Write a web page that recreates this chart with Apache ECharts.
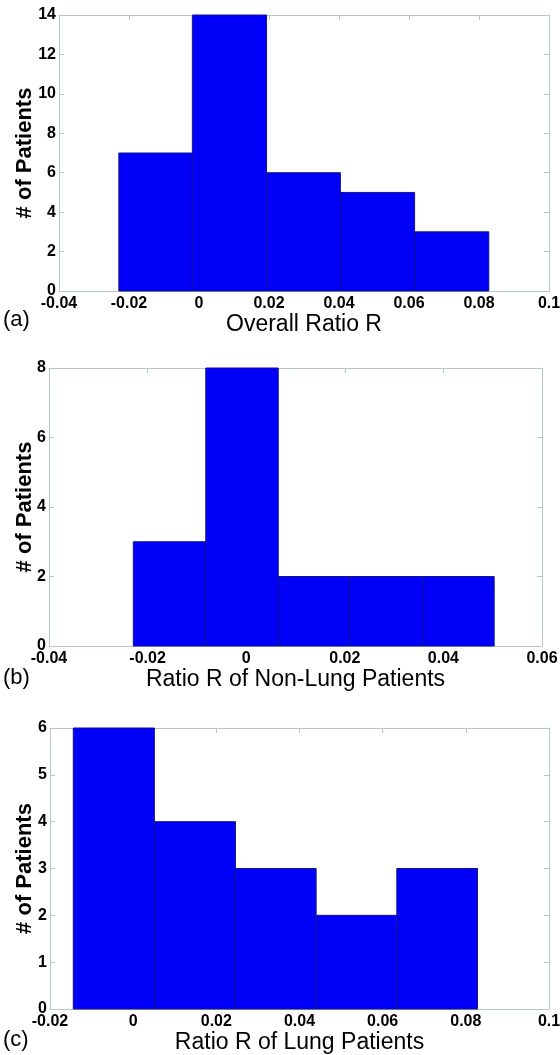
<!DOCTYPE html>
<html>
<head>
<meta charset="utf-8">
<script src="https://cdn.jsdelivr.net/npm/echarts@6/dist/echarts.min.js"></script>
<style>
html,body{margin:0;padding:0;background:#fff;}
#chart{width:560px;height:1055px;}
</style>
</head>
<body>
<div id="chart"></div>
<script>
// Panel (a): Overall Ratio R
const edgesA = [-0.0229, -0.0019, 0.0193, 0.0404, 0.0616, 0.0828];
const countsA = [7, 14, 6, 5, 3];
// Panel (b): Ratio R of Non-Lung Patients
const edgesB = [-0.0229, -0.0082, 0.0065, 0.0210, 0.0358, 0.0503];
const countsB = [3, 8, 2, 2, 2];
// Panel (c): Ratio R of Lung Patients
const edgesC = [-0.0144, 0.0051, 0.0246, 0.0440, 0.0634, 0.0828];
const countsC = [6, 4, 3, 2, 3];

const xTitles = ['Overall Ratio R', 'Ratio R of Non-Lung Patients', 'Ratio R of Lung Patients'];
const yTitle = '# of Patients';
const panelLabels = ['(a)', '(b)', '(c)'];
const xRanges = [[-0.04, 0.1], [-0.04, 0.06], [-0.02, 0.1]];
const yRanges = [[0, 14, 2], [0, 8, 2], [0, 6, 1]];

const grids = [
  {left: 59, top: 15, width: 490, height: 276},
  {left: 49, top: 368, width: 493, height: 278},
  {left: 50, top: 728, width: 499, height: 281}
];
const xNameGaps = [19, 18, 18];
const yNameGaps = [23, 13, 14];
const labelCenters = [320, 678, 1040];

const FONT = '"Liberation Sans", Arial, sans-serif';
const BORDER = '#b4c8c8';

function bins(edges, counts) {
  return counts.map((c, i) => [edges[i], edges[i + 1], c]);
}
const allBins = [bins(edgesA, countsA), bins(edgesB, countsB), bins(edgesC, countsC)];

function fmt(v) {
  return String(parseFloat(Number(v).toFixed(4)));
}

const xAxes = [], yAxes = [], series = [];
grids.forEach((g, i) => {
  const tick = {show: true, inside: true, length: 5, lineStyle: {color: BORDER}};
  const line = {show: true, onZero: false, lineStyle: {color: BORDER}};
  xAxes.push({
    type: 'value', gridIndex: i, position: 'bottom',
    min: xRanges[i][0], max: xRanges[i][1], interval: 0.02,
    axisLine: line, axisTick: tick, splitLine: {show: false},
    axisLabel: {color: '#000', fontFamily: FONT, fontSize: 16, fontWeight: 'bold', margin: 5, formatter: fmt},
    name: xTitles[i], nameLocation: 'middle', nameGap: xNameGaps[i],
    nameTextStyle: {color: '#000', fontFamily: FONT, fontSize: 23, verticalAlign: 'top'}
  });
  xAxes.push({
    type: 'value', gridIndex: i, position: 'top',
    min: xRanges[i][0], max: xRanges[i][1], interval: 0.02,
    axisLine: line, axisTick: tick, axisLabel: {show: false}, splitLine: {show: false}
  });
  yAxes.push({
    type: 'value', gridIndex: i, position: 'left',
    min: yRanges[i][0], max: yRanges[i][1], interval: yRanges[i][2],
    axisLine: line, axisTick: tick, splitLine: {show: false},
    axisLabel: {color: '#000', fontFamily: FONT, fontSize: 16, fontWeight: 'bold', margin: 3},
    name: yTitle, nameLocation: 'middle', nameGap: yNameGaps[i], nameRotate: 90,
    nameMoveOverlap: false,
    nameTextStyle: {color: '#000', fontFamily: FONT, fontSize: 22, fontWeight: 'bold', verticalAlign: 'bottom'}
  });
  yAxes.push({
    type: 'value', gridIndex: i, position: 'right',
    min: yRanges[i][0], max: yRanges[i][1], interval: yRanges[i][2],
    axisLine: line, axisTick: tick, axisLabel: {show: false}, splitLine: {show: false}
  });
  series.push({
    type: 'custom',
    xAxisIndex: i * 2, yAxisIndex: i * 2,
    data: allBins[i],
    encode: {x: [0, 1], y: 2},
    renderItem: function (params, api) {
      const p0 = api.coord([api.value(0), 0]);
      const p1 = api.coord([api.value(1), api.value(2)]);
      return {
        type: 'rect',
        shape: {x: p0[0], y: p1[1], width: p1[0] - p0[0], height: p0[1] - p1[1]},
        style: {fill: '#0000fa', stroke: '#14148c', lineWidth: 1}
      };
    },
    z: 5
  });
});

const graphic = panelLabels.map((t, i) => ({
  type: 'text', x: 3, y: labelCenters[i],
  style: {text: t, fontFamily: FONT, fontSize: 22, fill: '#000', verticalAlign: 'middle'}
}));

const chart = echarts.init(document.getElementById('chart'), null, {renderer: 'canvas'});
chart.setOption({
  animation: false,
  backgroundColor: '#fff',
  grid: grids.map(g => Object.assign({containLabel: false, outerBoundsMode: 'none'}, g)),
  xAxis: xAxes,
  yAxis: yAxes,
  series: series,
  graphic: graphic
});
</script>
</body>
</html>
